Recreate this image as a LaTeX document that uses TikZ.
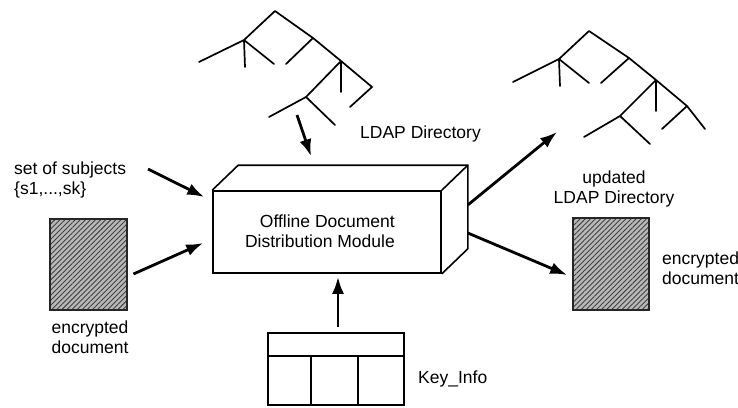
\documentclass[tikz,border=0pt]{standalone}
\usepackage{fontspec}
\setmainfont{Liberation Sans}
\usetikzlibrary{arrows.meta,calc,patterns.meta}

\tikzset{
  lbl/.style={inner sep=0pt, font=\fontsize{17.5}{19.5}\selectfont},
  branch/.style={line width=1.7pt, line cap=round},
  arr/.style={line width=2.8pt, -{Latex[length=17pt,width=12pt]}},
  boxline/.style={line width=1.6pt, line join=miter},
  docbox/.style={draw=black!85, line width=1.6pt,
    preaction={fill=black!28},
    pattern={Lines[angle=45,distance=3.6pt,line width=0.9pt]},
    pattern color=black!75},
}

\begin{document}
\begin{tikzpicture}[x=1pt,y=-1pt]
\useasboundingbox (0,0) rectangle (738,407);

% ---- directory tree (input)
\foreach \n/\p in {a/{275,11}, b/{244,40}, c/{199,62}, d/{245,67}, e/{274,64},
                   f/{313,38}, g/{286,64}, h/{341,61}, i/{341,92}, j/{372,87},
                   k/{350,107}, l/{306,97}, m/{269,117}, n/{335,125}}
  \coordinate (t\n) at (\p);
\draw[branch] (ta) -- (tb) -- (tc) (tb) -- (td) (tb) -- (te)
  (ta) -- (tf) -- (tg) (tf) -- (th) -- (ti) (th) -- (tj) -- (tk)
  (th) -- (tl) -- (tm) (tl) -- (tn);

% ---- directory tree (updated)
\foreach \n/\p in {a/{589,31}, b/{559,59}, c/{513,82}, d/{560,86}, e/{589,83},
                   f/{629,58}, g/{601,83}, h/{656,80}, i/{656,111}, j/{687,106},
                   k/{662,129}, q/{705,129}, l/{620,116}, m/{584,137}, n/{650,144}}
  \coordinate (u\n) at (\p);
\draw[branch] (ua) -- (ub) -- (uc) (ub) -- (ud) (ub) -- (ue)
  (ua) -- (uf) -- (ug) (uf) -- (uh) -- (ui) (uh) -- (uj) -- (uk) (uj) -- (uq)
  (uh) -- (ul) -- (um) (ul) -- (un);

% ---- module box (front face is the node, depth drawn behind)
\node[draw, boxline, minimum width=228pt, minimum height=82pt, inner sep=0pt]
  (odm) at (327,232) {};
\draw[boxline] (odm.north west) -- ++(26,-25) -- ($(odm.north east)+(26,-25)$)
  -- ($(odm.south east)+(26,-25)$) -- (odm.south east);
\draw[boxline] (odm.north east) -- ++(26,-25);
\node[lbl, align=right, anchor=base east] (odmtext) at (395,247)
  {Offline Document\\Distribution Module};

% ---- encrypted documents
\node[docbox, minimum width=77pt, minimum height=91pt, inner sep=0pt]
  (docin) at (88.5,264.5) {};
\node[docbox, minimum width=76pt, minimum height=92pt, inner sep=0pt]
  (docout) at (611,264) {};

% ---- key table
\node[draw, boxline, minimum width=136pt, minimum height=72pt, inner sep=0pt]
  (key) at (336,369) {};
\draw[boxline] ($(key.west)+(0,-13)$) -- ($(key.east)+(0,-13)$)
  ($(key.south west)+(44,0)$) -- ($(key.south west)+(44,-49)$)
  ($(key.south west)+(91,0)$) -- ($(key.south west)+(91,-49)$);

% ---- labels (multi-line: base = last line)
\node[lbl, anchor=base west] (ldap) at (360,138) {LDAP Directory};
\node[lbl, align=center, anchor=base] (ldapnew) at (614,203)
  {updated\\LDAP Directory};
\node[lbl, align=left, anchor=base west] (subj) at (14,194)
  {set of subjects\\\{s1,...,sk\}};
\node[lbl, align=center, anchor=base] (docinlbl) at (90,353)
  {encrypted\\document};
\node[lbl, align=left, anchor=base west] (docoutlbl) at (662,284)
  {encrypted\\document};
\node[lbl, anchor=base west] (keylbl) at (418,383) {Key\_Info};

% ---- flows
\coordinate (treetip) at (297,115);
\coordinate (subjend) at (148,169);
\coordinate (treenew) at (557,132);
\draw[arr] (treetip) -- ($(odm.north)+(-16,-34)$);
\draw[arr] (subjend) -- ($(odm.west)+(-8,-35)$);
\draw[arr] ($(docin.east)+(6,9.5)$) -- ($(odm.west)+(-9,11)$);
\draw[arr] ($(odm.east)+(26,-27)$) -- (treenew);
\draw[arr] ($(odm.east)+(26,1)$) -- ($(docout.west)+(-5,11)$);
\draw[arr] ($(key.north)+(2,-5)$) -- ($(odm.south)+(11,3)$);
\end{tikzpicture}
\end{document}
